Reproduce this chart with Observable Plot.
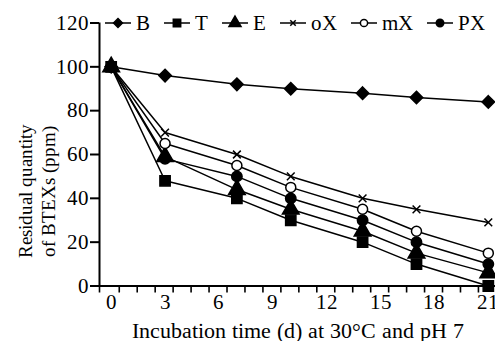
<!DOCTYPE html>
<html><head><meta charset="utf-8">
<script src="https://cdn.jsdelivr.net/npm/d3@7"></script>
<script src="https://cdn.jsdelivr.net/npm/@observablehq/plot@0.6"></script>
<style>
@font-face{font-family:'ChartSerif';src:local('Liberation Serif'),local('LiberationSerif'),local('LiberationSerif-Regular'),local('Liberation Serif Regular');}
body{margin:0;font-size:21px;font-family:'ChartSerif','Liberation Serif',serif;} div{white-space:nowrap;}
</style></head><body>
<div id="wrap" style="position:relative;width:495px;height:341px;font-family:'ChartSerif','Liberation Serif',serif"></div>
<script>
// ---- data ----
const days = [0, 3, 7, 10, 14, 17, 21];
const seriesNames = ["B", "T", "E", "oX", "mX", "PX"];
const B  = [100, 96, 92, 90, 88, 86, 84];
const T  = [100, 48, 40, 30, 20, 10, 0];
const E  = [100, 59, 44, 35, 25, 15, 6];
const oX = [100, 70, 60, 50, 40, 35, 29];
const mX = [100, 65, 55, 45, 35, 25, 15];
const PX = [100, 58, 50, 40, 30, 20, 10];
const xTickLabels = [0, 3, 6, 9, 12, 15, 18, 21];
const yTickLabels = [0, 20, 40, 60, 80, 100, 120];
const xLabel = "Incubation time (d) at 30°C and pH 7";
const yLabelLines = ["Residual quantity", "of BTEXs (ppm)"];

// ---- styles ----
const FONT = "'ChartSerif','Liberation Serif',serif";
const values = [B, T, E, oX, mX, PX];
const styles = {
  B:  {symbol: "diamond2", fill: "black", stroke: "black", r: 5.6},
  T:  {symbol: "square",   fill: "black", stroke: "black", r: 5.8},
  E:  {symbol: "triangle", fill: "black", stroke: "black", r: 6.2},
  oX: {symbol: "times",    fill: "none",  stroke: "black", r: 3.6},
  mX: {symbol: "circle",   fill: "white", stroke: "black", r: 5},
  PX: {symbol: "circle",   fill: "black", stroke: "black", r: 5.2}
};
const d3sym = {diamond2: d3.symbolDiamond2, square: d3.symbolSquare, triangle: d3.symbolTriangle, times: d3.symbolTimes, circle: d3.symbolCircle};

const rows = seriesNames.flatMap((s, i) => days.map((d, j) => ({series: s, day: d, value: values[i][j]})));

const xDomain = [-0.65, 21.4];
const minorTicks = [xDomain[0], ...d3.range(0, 21).map(k => k + 0.45)];

const marks = [
  Plot.ruleY([0], {strokeWidth: 2}),
  Plot.ruleX([xDomain[0]], {y1: 0, y2: 120, strokeWidth: 2}),
  Plot.axisY({ticks: yTickLabels, tickSize: 9, tickPadding: 2, strokeWidth: 2, label: null, fontSize: 21, fontFamily: FONT}),
  Plot.axisX({ticks: minorTicks, tickSize: 7, tickFormat: () => "", strokeWidth: 1.6, label: null}),
  Plot.axisX({ticks: xTickLabels, tickSize: 0, tickPadding: 8, fontSize: 21, fontFamily: FONT, label: null}),
  Plot.axisX({ticks: [], tickSize: 0, fontSize: 22, fontFamily: FONT, label: xLabel, labelAnchor: "center", labelArrow: "none", labelOffset: 52})
];
for (const s of seriesNames) {
  marks.push(Plot.line(rows.filter(r => r.series === s), {x: "day", y: "value", stroke: "black", strokeWidth: 1.5}));
}
for (const s of seriesNames) {
  const st = styles[s];
  marks.push(Plot.dot(rows.filter(r => r.series === s), {x: "day", y: "value", symbol: () => st.symbol, fill: st.fill, stroke: st.stroke, strokeWidth: 1.5, r: st.r}));
}

const chart = Plot.plot({
  width: 495, height: 341,
  marginLeft: 99, marginRight: 0, marginTop: 22.5, marginBottom: 55.5,
  style: "font-family:'ChartSerif','Liberation Serif',serif;font-size:21px;",
  x: {domain: xDomain},
  y: {domain: [0, 120]},
  symbol: {type: "identity"},
  marks
});
const wrap = document.getElementById("wrap");
wrap.appendChild(chart);

// legend
const legend = document.createElement("div");
legend.style.cssText = "position:absolute;left:105px;top:11px;display:flex;align-items:center;gap:14px;font-size:21px;line-height:24px;font-family:'ChartSerif','Liberation Serif',serif";
for (const s of seriesNames) {
  const st = styles[s];
  const item = document.createElement("div");
  item.style.cssText = "display:flex;align-items:center;gap:5px;";
  const svg = d3.create("svg").attr("width", 26).attr("height", 20).style("display", "block");
  svg.append("line").attr("x1", 0).attr("x2", 26).attr("y1", 10).attr("y2", 10).attr("stroke", "black").attr("stroke-width", 1.5);
  const rr = st.r * 0.72;
  svg.append("path").attr("transform", "translate(13,10)")
    .attr("d", d3.symbol(d3sym[st.symbol], Math.PI * rr * rr)())
    .attr("fill", st.fill).attr("stroke", st.stroke).attr("stroke-width", 1.5);
  item.appendChild(svg.node());
  const t = document.createElement("span");
  t.textContent = s;
  item.appendChild(t);
  legend.appendChild(item);
}
wrap.appendChild(legend);

const ylab = document.createElement("div");
ylab.style.cssText = "position:absolute;left:36.5px;top:191px;transform:translate(-50%,-50%) rotate(-90deg);text-align:center;font-size:19px;line-height:23px;white-space:nowrap;font-family:'ChartSerif','Liberation Serif',serif";
ylab.innerHTML = yLabelLines.join("<br>");
wrap.appendChild(ylab);
</script></body></html>
